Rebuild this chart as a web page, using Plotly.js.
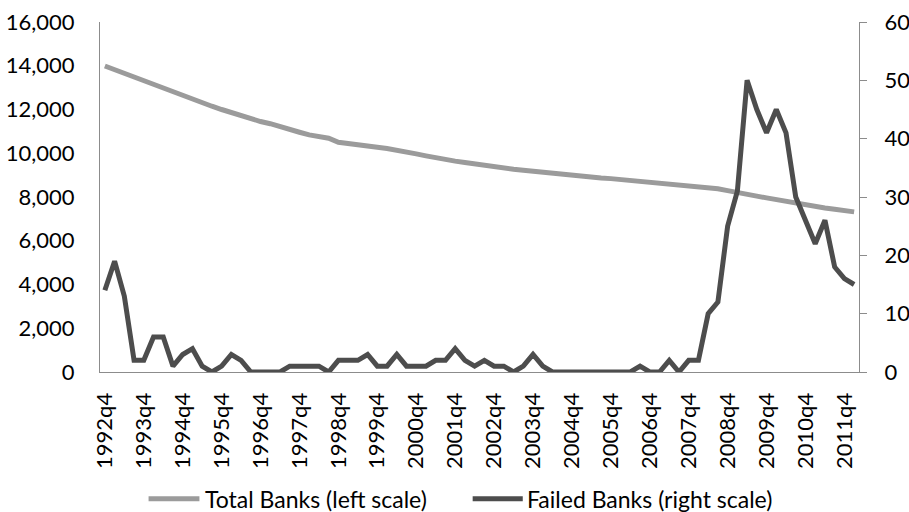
<!DOCTYPE html>
<html>
<head>
<meta charset="utf-8">
<script src="https://cdn.plot.ly/plotly-3.0.1.min.js"></script>
<style>
  html, body { margin: 0; padding: 0; background: #ffffff; }
  #chart { width: 909px; height: 512px; }
</style>
</head>
<body>
<div id="chart"></div>
<script>
// Quarter labels, 1992q4 through 2012q1
const startYear = 1992;
const quarters = [];
for (let y = startYear; y <= 2012; y++) {
  for (let q = 1; q <= 4; q++) {
    if ((y === 1992 && q < 4) || (y === 2012 && q > 1)) continue;
    quarters.push(y + 'q' + q);
  }
}

// Number of FDIC-insured institutions (left scale)
const totalBanks = [
  13990, 13820, 13650, 13490, 13320, 13150, 12990, 12820, 12620, 12440,
  12300, 12150, 12000, 11850, 11690, 11570, 11450, 11350, 11200, 11080,
  10960, 10840, 10760, 10690, 10500, 10430, 10380, 10320, 10270, 10220,
  10150, 10060, 9970, 9880, 9790, 9705, 9640, 9580, 9510, 9450,
  9380, 9320, 9270, 9220, 9170, 9120, 9070, 9030, 8990, 8950,
  8910, 8870, 8840, 8800, 8770, 8730, 8690, 8650, 8620, 8580,
  8540, 8500, 8460, 8380, 8290, 8190, 8120, 8040, 7960, 7880,
  7790, 7700, 7620, 7560, 7500, 7440, 7380, 7320
];

// Bank failures per quarter (right scale)
const failedBanks = [
  14, 19, 13, 2, 2, 6, 6, 1, 3, 4,
  1, 0, 1, 3, 2, 0, 0, 0, 0, 1,
  1, 1, 1, 0, 2, 2, 2, 3, 1, 1,
  3, 1, 1, 1, 2, 2, 4, 2, 1, 2,
  1, 1, 0, 1, 3, 1, 0, 0, 0, 0,
  0, 0, 0, 0, 0, 1, 0, 0, 2, 0,
  2, 2, 10, 12, 25, 31, 50, 45, 41, 45,
  41, 30, 26, 22, 26, 18, 16, 15
];

// Axis labels shown on the category axis: every fourth quarter
const xTickLabels = quarters.filter((q, i) => i % 4 === 0);

const seriesNames = ['Total Banks (left scale)', 'Failed Banks (right scale)'];
const seriesColors = ['#9b9b9b', '#4d4d4d'];

const FONT = 'Lato, "Liberation Sans", sans-serif';
const AXIS_COLOR = '#8c8c8c';
const TICK_FONT = { family: FONT, size: 22, color: '#000000' };

const traces = [
  {
    x: quarters,
    y: totalBanks,
    name: seriesNames[0],
    type: 'scatter',
    mode: 'lines',
    yaxis: 'y',
    line: { color: seriesColors[0], width: 5 },
    hoverinfo: 'x+y'
  },
  {
    x: quarters,
    y: failedBanks,
    name: seriesNames[1],
    type: 'scatter',
    mode: 'lines',
    yaxis: 'y2',
    line: { color: seriesColors[1], width: 5 },
    hoverinfo: 'x+y'
  }
];

// Legend below the axis: a line swatch followed by the series name
const legendY = -0.362;
const legendItems = [
  { x0: 0.064, x1: 0.131, tx: 0.136 },
  { x0: 0.491, x1: 0.557, tx: 0.560 }
];
const legendShapes = legendItems.map((it, i) => ({
  type: 'line',
  xref: 'paper', yref: 'paper',
  x0: it.x0, x1: it.x1, y0: legendY, y1: legendY,
  line: { color: seriesColors[i], width: 5 }
}));
const legendLabels = legendItems.map((it, i) => ({
  xref: 'paper', yref: 'paper',
  x: it.tx, y: legendY,
  xanchor: 'left', yanchor: 'middle',
  text: seriesNames[i],
  showarrow: false,
  font: { family: FONT, size: 23, color: '#000000' }
}));

const layout = {
  width: 909,
  height: 512,
  paper_bgcolor: '#ffffff',
  plot_bgcolor: '#ffffff',
  font: { family: FONT, size: 22, color: '#000000' },
  margin: { l: 100, r: 50, t: 22, b: 140, pad: 0 },
  showlegend: false,
  shapes: legendShapes,
  annotations: legendLabels,
  xaxis: {
    type: 'category',
    categoryorder: 'array',
    categoryarray: quarters,
    range: [-0.5, quarters.length - 0.5],
    tickmode: 'array',
    tickvals: xTickLabels,
    ticktext: xTickLabels,
    tickangle: -90,
    ticks: '',
    ticklabelstandoff: 11,
    showgrid: false,
    zeroline: false,
    showline: true,
    linecolor: AXIS_COLOR,
    linewidth: 1,
    tickfont: TICK_FONT
  },
  yaxis: {
    range: [0, 16000],
    dtick: 2000,
    tick0: 0,
    tickformat: ',d',
    ticks: '',
    ticklabelstandoff: 20,
    showgrid: false,
    zeroline: false,
    showline: true,
    linecolor: AXIS_COLOR,
    linewidth: 1,
    tickfont: TICK_FONT
  },
  yaxis2: {
    range: [0, 60],
    dtick: 10,
    tick0: 0,
    overlaying: 'y',
    side: 'right',
    ticks: 'outside',
    ticklen: 7,
    tickcolor: AXIS_COLOR,
    tickwidth: 1,
    ticklabelstandoff: 13,
    showgrid: false,
    zeroline: false,
    showline: true,
    linecolor: AXIS_COLOR,
    linewidth: 1,
    tickfont: TICK_FONT
  }
};

Plotly.newPlot('chart', traces, layout, { staticPlot: true, displayModeBar: false });
</script>
</body>
</html>
